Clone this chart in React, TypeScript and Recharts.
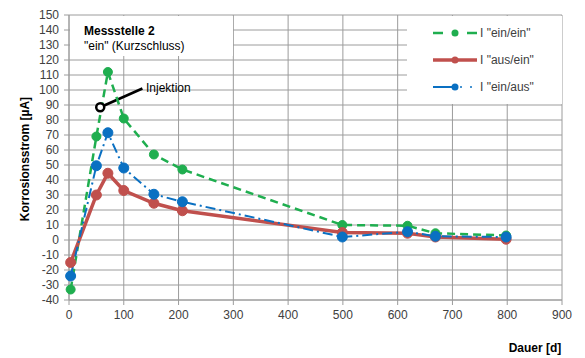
import { CartesianGrid, Line, LineChart, ReferenceDot, ReferenceLine, XAxis, YAxis } from 'recharts'

const days = [3, 50, 71, 100, 155, 207, 499, 618, 669, 798]
const einEin = [-33, 69, 112, 81, 57, 47, 10, 9.5, 4.5, 3]
const ausEin = [-15, 30, 44.5, 33, 24.5, 19.5, 5, 4.5, 2, 0.5]
const einAus = [-24, 49.5, 71.5, 48, 30.5, 25.5, 2, 5.5, 2.5, 2]

const xTicks = [0, 100, 200, 300, 400, 500, 600, 700, 800, 900]
const yTicks = [-40, -30, -20, -10, 0, 10, 20, 30, 40, 50, 60, 70, 80, 90, 100, 110, 120, 130, 140, 150]

const injektion = { x: 57, y: 88.5, labelX: 134, labelY: 101 }

const COLORS = {
  green: '#1fae4f',
  red: '#c0504d',
  blue: '#0a70c2',
  grid: '#9c9c9c',
  text: '#404040',
}

const FONT = '"Liberation Sans", Arial, sans-serif'

const data = days.map((d, i) => ({
  day: d,
  einEin: einEin[i],
  ausEin: ausEin[i],
  einAus: einAus[i],
}))

const series = [
  { key: 'einEin', name: 'I "ein/ein"', color: COLORS.green, width: 2.5, dash: '8 5', r: 4.5 },
  { key: 'ausEin', name: 'I "aus/ein"', color: COLORS.red, width: 3.5, dash: undefined, r: 5 },
  { key: 'einAus', name: 'I "ein/aus"', color: COLORS.blue, width: 2, dash: '10 4 2 4', r: 5 },
]

function LegendBox() {
  return (
    <div
      style={{
        position: 'absolute',
        left: 407,
        top: 16,
        width: 155,
        height: 88,
        background: '#fff',
        fontSize: 12,
        color: COLORS.text,
      }}
    >
      {series.map((s, i) => (
        <div key={s.key} style={{ display: 'flex', alignItems: 'center', height: 18, marginTop: i === 0 ? 8 : 9 }}>
          <svg width={46} height={12} style={{ marginLeft: 26 }}>
            {s.key === 'einEin' && (
              <>
                <line x1={0} y1={6} x2={10} y2={6} stroke={s.color} strokeWidth={2.5} />
                <line x1={34} y1={6} x2={44} y2={6} stroke={s.color} strokeWidth={2.5} />
              </>
            )}
            {s.key === 'ausEin' && <line x1={0} y1={6} x2={44} y2={6} stroke={s.color} strokeWidth={3.5} />}
            {s.key === 'einAus' && (
              <>
                <line x1={0} y1={6} x2={22} y2={6} stroke={s.color} strokeWidth={2} />
                <circle cx={28} cy={6} r={1} fill={s.color} />
                <circle cx={38} cy={6} r={1} fill={s.color} />
              </>
            )}
            <circle cx={22} cy={6} r={3.5} fill={s.color} />
          </svg>
          <span style={{ marginLeft: 1 }}>{s.name}</span>
        </div>
      ))}
    </div>
  )
}

export default function App() {
  return (
    <div style={{ position: 'relative', width: 585, height: 358, background: '#fff', fontFamily: FONT }}>
      <style>{'body{margin:0}'}</style>
      <LineChart
        width={585}
        height={358}
        data={data}
        margin={{ top: 15, right: 23, bottom: 28, left: 29 }}
      >
        <CartesianGrid stroke={COLORS.grid} strokeWidth={1} />
        <XAxis
          dataKey="day"
          type="number"
          domain={[0, 900]}
          ticks={xTicks}
          height={30}
          tickSize={5}
          tickMargin={5}
          stroke={COLORS.grid}
          tick={{ fill: COLORS.text, fontSize: 12, fontFamily: FONT }}
        />
        <YAxis
          type="number"
          domain={[-40, 150]}
          ticks={yTicks}
          width={40}
          interval={0}
          tickSize={5}
          tickMargin={5}
          stroke={COLORS.grid}
          tick={{ fill: COLORS.text, fontSize: 12, fontFamily: FONT }}
        />
        <ReferenceLine
          segment={[
            { x: injektion.x, y: injektion.y },
            { x: injektion.labelX, y: injektion.labelY },
          ]}
          stroke="#000"
          strokeWidth={2.5}
        />
        {series.map((s) => (
          <Line
            key={s.key}
            dataKey={s.key}
            name={s.name}
            stroke={s.color}
            strokeWidth={s.width}
            strokeDasharray={s.dash}
            dot={{ r: s.r, fill: s.color, stroke: s.color, strokeWidth: 1, strokeDasharray: '' }}
            activeDot={false}
            isAnimationActive={false}
          />
        ))}
        <ReferenceDot x={injektion.x} y={injektion.y} r={4} fill="#fff" stroke="#000" strokeWidth={2.5} />
      </LineChart>
      <LegendBox />
      <div
        style={{
          position: 'absolute',
          left: 70,
          top: 16,
          width: 163,
          height: 40,
          background: '#fff',
          fontSize: 12,
          color: '#000',
          lineHeight: '15px',
        }}
      >
        <div style={{ marginLeft: 14, marginTop: 8, fontWeight: 'bold' }}>Messstelle 2</div>
        <div style={{ marginLeft: 14 }}>"ein" (Kurzschluss)</div>
      </div>
      <div style={{ position: 'absolute', left: 146, top: 81, fontSize: 12, color: '#000' }}>Injektion</div>
      <div
        style={{
          position: 'absolute',
          left: 25,
          top: 159,
          fontSize: 12,
          fontWeight: 'bold',
          color: '#000',
          whiteSpace: 'nowrap',
          transform: 'translate(-50%, -50%) rotate(-90deg)',
        }}
      >
        Korrosionsstrom [µA]
      </div>
      <div
        style={{
          position: 'absolute',
          left: 535,
          top: 348,
          fontSize: 12,
          fontWeight: 'bold',
          color: '#000',
          whiteSpace: 'nowrap',
          transform: 'translate(-50%, -50%)',
        }}
      >
        Dauer [d]
      </div>
    </div>
  )
}
